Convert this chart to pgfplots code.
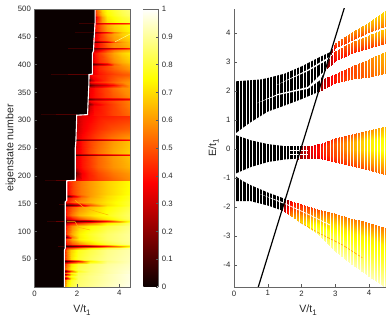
\documentclass[border=0pt]{standalone}
\usepackage{fontspec}
\setmainfont{Liberation Sans}
\usepackage{pgfplots}
\pgfplotsset{compat=1.18}
\pgfplotsset{
  /pgf/number format/assume math mode=true,
  colormap={myhot}{rgb(0cm)=(.04,0,0) rgb(3cm)=(1,0,0) rgb(6cm)=(1,1,0) rgb(8cm)=(1,1,1)},
  colormap name=myhot,
  tick label style={font=\fontsize{7.8}{8}\selectfont,text=black!85},
  label style={font=\fontsize{10.6}{11}\selectfont,text=black!85},
  every axis/.append style={line width=0.6bp},
  tick style={color=black!65,line width=0.5bp},
  major tick length=2.5bp,
  axis line style={color=black!60},
}
\definecolor{hotzero}{rgb}{.04,0,0}
\begin{document}
\begin{tikzpicture}[x=1bp,y=1bp]
\path[use as bounding box] (0,0) rectangle (390,319);
\begin{axis}[name=left, at={(34.5bp,32bp)}, anchor=south west, scale only axis,
  width=95.5bp, height=278bp, xmin=0, xmax=4.5, ymin=0, ymax=500,
  point meta min=0, point meta max=1,
  axis background/.style={fill=hotzero}, axis on top, tick align=inside,
  xtick={0,2,4}, ytick={50,100,...,500}, xtick pos=bottom, ytick pos=left,
  xlabel={V/t\raisebox{-2.5bp}{\fontsize{8}{8}\selectfont 1}}, ylabel={eigenstate number},
  xlabel style={at={(axis description cs:.497,-.083)},anchor=center},
  ylabel style={at={(axis description cs:-.251,.5)},anchor=center},
  colorbar, colorbar shift/.style={xshift=13bp}, colorbar style={width=15bp,
    ytick={0,.1,...,1}, axis y line=right, axis x line=top, axis line style={-},
    xtick=\empty, tick align=inside, major tick length=2.5bp, scaled y ticks=false},
]
\addplot[surf, shader=interp, mesh/cols=7, point meta=explicit] coordinates {
(1.41,1)[.55] (1.51,1)[.72] (1.71,1)[.80] (2.06,1)[.86] (2.6,1)[.89] (3.4,1)[.93] (4.5,1)[.98]
(1.41,12)[.5] (1.51,12)[.68] (1.71,12)[.78] (2.06,12)[.85] (2.6,12)[.88] (3.4,12)[.92] (4.5,12)[.97]
(1.41,16)[.15] (1.51,16)[.35] (1.71,16)[.70] (2.06,16)[.84] (2.6,16)[.88] (3.4,16)[.92] (4.5,16)[.97]
(1.41,20)[.5] (1.51,20)[.66] (1.71,20)[.77] (2.06,20)[.84] (2.6,20)[.88] (3.4,20)[.92] (4.5,20)[.97]
(1.41,23)[.15] (1.51,23)[.35] (1.71,23)[.68] (2.06,23)[.83] (2.6,23)[.87] (3.4,23)[.92] (4.5,23)[.97]
(1.41,26)[.45] (1.51,26)[.6] (1.71,26)[.75] (2.06,26)[.83] (2.6,26)[.87] (3.4,26)[.91] (4.5,26)[.96]
(1.41,29)[.10] (1.51,29)[.25] (1.71,29)[.5] (2.06,29)[.78] (2.6,29)[.86] (3.4,29)[.91] (4.5,29)[.96]
(1.41,33)[.45] (1.51,33)[.6] (1.71,33)[.73] (2.06,33)[.82] (2.6,33)[.86] (3.4,33)[.91] (4.5,33)[.95]
(1.41,41)[.4] (1.51,41)[.55] (1.71,41)[.70] (2.06,41)[.80] (2.6,41)[.85] (3.4,41)[.9] (4.5,41)[.94]
(1.41,46)[.06] (1.51,46)[.12] (1.71,46)[.22] (2.06,46)[.38] (2.6,46)[.72] (3.4,46)[.87] (4.5,46)[.93]
(1.41,51)[.4] (1.51,51)[.55] (1.71,51)[.70] (2.06,51)[.79] (2.6,51)[.84] (3.4,51)[.89] (4.5,51)[.93]
(1.41,66)[.4] (1.51,66)[.55] (1.71,66)[.68] (2.06,66)[.77] (2.6,66)[.82] (3.4,66)[.88] (4.5,66)[.92]
(1.45,71)[.3] (1.55,71)[.45] (1.75,71)[.5] (2.1,71)[.6] (2.6,71)[.72] (3.4,71)[.82] (4.5,71)[.9]
(1.45,74)[.05] (1.55,74)[.08] (1.75,74)[.12] (2.1,74)[.18] (2.6,74)[.22] (3.4,74)[.42] (4.5,74)[.72]
(1.45,77)[.3] (1.55,77)[.42] (1.75,77)[.5] (2.1,77)[.58] (2.6,77)[.68] (3.4,77)[.8] (4.5,77)[.88]
(1.45,86)[.38] (1.55,86)[.5] (1.75,86)[.62] (2.1,86)[.73] (2.6,86)[.78] (3.4,86)[.85] (4.5,86)[.9]
(1.45,90)[.08] (1.55,90)[.2] (1.75,90)[.55] (2.1,90)[.72] (2.6,90)[.78] (3.4,90)[.85] (4.5,90)[.9]
(1.45,95)[.38] (1.55,95)[.5] (1.75,95)[.63] (2.1,95)[.73] (2.6,95)[.79] (3.4,95)[.85] (4.5,95)[.9]
(1.45,110)[.35] (1.55,110)[.45] (1.75,110)[.58] (2.1,110)[.68] (2.6,110)[.74] (3.4,110)[.81] (4.5,110)[.88]
(1.45,115)[.2] (1.55,115)[.3] (1.75,115)[.38] (2.1,115)[.45] (2.6,115)[.55] (3.4,115)[.72] (4.5,115)[.85]
(1.45,119)[.05] (1.55,119)[.07] (1.75,119)[.1] (2.1,119)[.14] (2.6,119)[.18] (3.4,119)[.4] (4.5,119)[.78]
(1.45,123)[.2] (1.55,123)[.3] (1.75,123)[.38] (2.1,123)[.48] (2.6,123)[.58] (3.4,123)[.72] (4.5,123)[.84]
(1.45,130)[.35] (1.55,130)[.45] (1.75,130)[.55] (2.1,130)[.64] (2.6,130)[.7] (3.4,130)[.77] (4.5,130)[.85]
(1.45,143)[.35] (1.55,143)[.42] (1.75,143)[.5] (2.1,143)[.58] (2.6,143)[.65] (3.4,143)[.74] (4.5,143)[.82]
(1.45,148)[.06] (1.55,148)[.1] (1.75,148)[.14] (2.1,148)[.25] (2.6,148)[.5] (3.4,148)[.7] (4.5,148)[.8]
(1.45,153)[.35] (1.55,153)[.42] (1.75,153)[.5] (2.1,153)[.58] (2.6,153)[.64] (3.4,153)[.72] (4.5,153)[.8]
(1.52,160)[.35] (1.62,160)[.4] (1.82,160)[.46] (2.17,160)[.55] (2.6,160)[.62] (3.4,160)[.7] (4.5,160)[.78]
(1.52,164)[.1] (1.62,164)[.15] (1.82,164)[.3] (2.17,164)[.5] (2.6,164)[.6] (3.4,164)[.7] (4.5,164)[.78]
(1.52,168)[.33] (1.62,168)[.4] (1.82,168)[.47] (2.17,168)[.55] (2.6,168)[.6] (3.4,168)[.68] (4.5,168)[.76]
(1.52,190)[.36] (1.62,190)[.42] (1.82,190)[.48] (2.17,190)[.55] (2.6,190)[.6] (3.4,190)[.68] (4.5,190)[.75]
(1.92,192)[.3] (2.02,192)[.33] (2.22,192)[.38] (2.57,192)[.42] (3,192)[.46] (3.7,192)[.52] (4.5,192)[.58]
(1.92,205)[.08] (2.02,205)[.2] (2.22,205)[.36] (2.57,205)[.42] (3,205)[.48] (3.7,205)[.55] (4.5,205)[.6]
(1.92,215)[.3] (2.02,215)[.34] (2.22,215)[.4] (2.57,215)[.45] (3,215)[.52] (3.7,215)[.59] (4.5,215)[.64]
(1.92,235)[.3] (2.02,235)[.34] (2.22,235)[.4] (2.57,235)[.45] (3,235)[.52] (3.7,235)[.6] (4.5,235)[.66]
(1.92,238)[.06] (2.02,238)[.1] (2.22,238)[.14] (2.57,238)[.18] (3,238)[.24] (3.7,238)[.3] (4.5,238)[.38]
(1.92,241)[.3] (2.02,241)[.34] (2.22,241)[.4] (2.57,241)[.47] (3,241)[.54] (3.7,241)[.62] (4.5,241)[.68]
(1.95,262)[.3] (2.05,262)[.34] (2.25,262)[.4] (2.6,262)[.47] (3,262)[.52] (3.7,262)[.6] (4.5,262)[.66]
(1.95,265)[.06] (2.05,265)[.1] (2.25,265)[.15] (2.6,265)[.2] (3,265)[.25] (3.7,265)[.32] (4.5,265)[.4]
(1.95,268)[.3] (2.05,268)[.34] (2.25,268)[.38] (2.6,268)[.43] (3,268)[.48] (3.7,268)[.55] (4.5,268)[.6]
(1.97,285)[.25] (2.07,285)[.3] (2.27,285)[.36] (2.62,285)[.4] (3,285)[.44] (3.7,285)[.49] (4.5,285)[.52]
(1.99,309)[.25] (2.09,309)[.3] (2.29,309)[.34] (2.64,309)[.37] (3,309)[.4] (3.7,309)[.42] (4.5,309)[.44]
(2.5,310)[.3] (2.6,310)[.36] (2.8,310)[.4] (3.3,310)[.43] (3.7,310)[.47] (4.1,310)[.5] (4.5,310)[.53]
(2.5,325)[.15] (2.6,325)[.3] (2.8,325)[.38] (3.3,325)[.43] (3.7,325)[.47] (4.1,325)[.52] (4.5,325)[.56]
(2.5,330)[.15] (2.6,330)[.2] (2.8,330)[.33] (3.3,330)[.42] (3.7,330)[.47] (4.1,330)[.52] (4.5,330)[.56]
(2.5,335)[.3] (2.6,335)[.36] (2.8,335)[.4] (3.3,335)[.45] (3.7,335)[.49] (4.1,335)[.53] (4.5,335)[.57]
(2.53,338)[.1] (2.63,338)[.15] (2.83,338)[.22] (3.3,338)[.28] (3.7,338)[.3] (4.1,338)[.32] (4.5,338)[.36]
(2.53,341)[.28] (2.63,341)[.36] (2.83,341)[.4] (3.3,341)[.46] (3.7,341)[.5] (4.1,341)[.54] (4.5,341)[.58]
(2.53,358)[.2] (2.63,358)[.35] (2.83,358)[.4] (3.3,358)[.47] (3.7,358)[.53] (4.1,358)[.58] (4.5,358)[.6]
(2.56,363)[.08] (2.66,363)[.15] (2.86,363)[.22] (3.3,363)[.3] (3.7,363)[.38] (4.1,363)[.5] (4.5,363)[.6]
(2.56,368)[.3] (2.66,368)[.38] (2.86,368)[.42] (3.3,368)[.47] (3.7,368)[.52] (4.1,368)[.57] (4.5,368)[.6]
(2.56,373)[.1] (2.66,373)[.25] (2.86,373)[.36] (3.3,373)[.44] (3.7,373)[.5] (4.1,373)[.55] (4.5,373)[.58]
(2.57,382)[.3] (2.67,382)[.38] (2.87,382)[.4] (3.3,382)[.44] (3.7,382)[.48] (4.1,382)[.5] (4.5,382)[.52]
(2.73,383)[.3] (2.83,383)[.36] (3.03,383)[.4] (3.4,383)[.44] (3.75,383)[.47] (4.1,383)[.5] (4.5,383)[.52]
(2.73,392)[.3] (2.83,392)[.38] (3.03,392)[.43] (3.4,392)[.48] (3.75,392)[.52] (4.1,392)[.56] (4.5,392)[.6]
(2.73,398)[.3] (2.83,398)[.38] (3.03,398)[.43] (3.4,398)[.48] (3.75,398)[.54] (4.1,398)[.58] (4.5,398)[.62]
(2.73,401)[.1] (2.83,401)[.16] (3.03,401)[.22] (3.4,401)[.32] (3.75,401)[.52] (4.1,401)[.6] (4.5,401)[.64]
(2.73,404)[.3] (2.83,404)[.38] (3.03,404)[.44] (3.4,404)[.5] (3.75,404)[.58] (4.1,404)[.63] (4.5,404)[.67]
(2.73,420)[.3] (2.83,420)[.4] (3.03,420)[.46] (3.4,420)[.55] (3.75,420)[.62] (4.1,420)[.68] (4.5,420)[.72]
(2.78,426)[.25] (2.88,426)[.3] (3.08,426)[.36] (3.4,426)[.46] (3.75,426)[.55] (4.1,426)[.6] (4.5,426)[.64]
(2.78,429)[.12] (2.88,429)[.16] (3.08,429)[.2] (3.4,429)[.26] (3.75,429)[.3] (4.1,429)[.34] (4.5,429)[.42]
(2.78,432)[.3] (2.88,432)[.36] (3.08,432)[.42] (3.4,432)[.5] (3.75,432)[.58] (4.1,432)[.6] (4.5,432)[.64]
(2.78,438)[.3] (2.88,438)[.35] (3.08,438)[.42] (3.4,438)[.52] (3.75,438)[.58] (4.1,438)[.62] (4.5,438)[.66]
(2.78,441)[.1] (2.88,441)[.14] (3.08,441)[.2] (3.4,441)[.3] (3.75,441)[.5] (4.1,441)[.6] (4.5,441)[.66]
(2.78,444)[.3] (2.88,444)[.36] (3.08,444)[.44] (3.4,444)[.52] (3.75,444)[.6] (4.1,444)[.64] (4.5,444)[.68]
(2.82,455)[.3] (2.92,455)[.36] (3.12,455)[.46] (3.4,455)[.55] (3.75,455)[.62] (4.1,455)[.68] (4.5,455)[.72]
(2.82,458)[.15] (2.92,458)[.2] (3.12,458)[.3] (3.4,458)[.38] (3.75,458)[.55] (4.1,458)[.66] (4.5,458)[.72]
(2.82,461)[.33] (2.92,461)[.4] (3.12,461)[.5] (3.4,461)[.6] (3.75,461)[.66] (4.1,461)[.7] (4.5,461)[.74]
(2.82,471)[.33] (2.92,471)[.42] (3.12,471)[.52] (3.4,471)[.62] (3.75,471)[.68] (4.1,471)[.72] (4.5,471)[.75]
(2.82,474)[.2] (2.92,474)[.28] (3.12,474)[.33] (3.4,474)[.36] (3.75,474)[.38] (4.1,474)[.4] (4.5,474)[.45]
(2.86,477)[.35] (2.96,477)[.45] (3.16,477)[.6] (3.4,477)[.7] (3.75,477)[.74] (4.1,477)[.78] (4.5,477)[.8]
(2.86,485)[.25] (2.96,485)[.4] (3.16,485)[.6] (3.4,485)[.72] (3.75,485)[.76] (4.1,485)[.8] (4.5,485)[.83]
(2.86,490)[.4] (2.96,490)[.5] (3.16,490)[.65] (3.4,490)[.74] (3.75,490)[.78] (4.1,490)[.82] (4.5,490)[.85]
(2.86,500)[.45] (2.96,500)[.55] (3.16,500)[.7] (3.4,500)[.76] (3.75,500)[.8] (4.1,500)[.84] (4.5,500)[.87]
};
% dark streaks running into the black region
\addplot[mesh, point meta=explicit, line width=.9bp, forget plot] coordinates {(.6,118)[.03] (1,118)[.08] (1.41,118)[.2]};
\addplot[mesh, point meta=explicit, line width=.9bp, forget plot] coordinates {(.5,191)[.03] (1,191)[.08] (1.52,191)[.16]};
\addplot[mesh, point meta=explicit, line width=.9bp, forget plot] coordinates {(.3,310)[.03] (1,310)[.08] (1.99,310)[.13]};
\addplot[mesh, point meta=explicit, line width=.9bp, forget plot] coordinates {(.8,382)[.03] (1.6,382)[.1] (2.57,382)[.15]};
\addplot[mesh, point meta=explicit, line width=.7bp, forget plot] coordinates {(1.1,74)[.03] (1.45,74)[.12]};
\addplot[mesh, point meta=explicit, line width=.7bp, forget plot] coordinates {(1.15,148)[.03] (1.45,148)[.12]};
\addplot[mesh, point meta=explicit, line width=.7bp, forget plot] coordinates {(1.6,429)[.03] (2.78,429)[.12]};
\addplot[mesh, point meta=explicit, line width=.7bp, forget plot] coordinates {(1.9,458)[.03] (2.82,458)[.08]};
\addplot[mesh, point meta=explicit, line width=.7bp, forget plot] coordinates {(2.1,474)[.03] (2.82,474)[.12]};
% thin pale curves
\addplot[no marks, color=orange!60!yellow, line width=.5bp] coordinates {(1.91,156)(2.1,150)(2.33,143)(2.93,135.6)(3.48,129.6)};
\addplot[no marks, color=orange!60!yellow, line width=.5bp] coordinates {(1.52,117.7)(1.91,117.7)(2.07,107.4)(2.62,102.6)};
\addplot[no marks, color=yellow!50, line width=.5bp] coordinates {(3.8,441)(4.5,455)};
% white step line
\addplot[no marks, white, line width=1.1bp] coordinates {(1.41,0)(1.41,66)(1.45,70)(1.45,153)(1.52,156)(1.52,191)(1.92,192)(1.92,250)(1.95,262)(1.97,285)(1.99,309)(2.5,310)(2.53,338)(2.56,363)(2.57,382)(2.73,383)(2.73,420)(2.78,425)(2.82,454)(2.86,478)(2.86,500)};
\end{axis}

\begin{axis}[name=right, at={(234bp,32bp)}, anchor=south west, scale only axis,
  width=152bp, height=278bp, xmin=0, xmax=4.5, ymin=-4.76, ymax=4.83,
  point meta min=0, point meta max=1,
  axis x line=bottom, axis y line=left, axis line style={-}, axis on top, tick align=inside,
  xtick={0,1,2,3,4}, ytick={-4,-3,-2,-1,0,1,2,3,4},
  xlabel={V/t\raisebox{-2.5bp}{\fontsize{8}{8}\selectfont 1}}, ylabel={E/t\raisebox{-2.5bp}{\fontsize{8}{8}\selectfont 1}},
  xlabel style={at={(axis description cs:.487,-.083)},anchor=center},
  ylabel style={at={(axis description cs:-.135,.5)},anchor=center},
]
% black parts of the bands, left of the line
\addplot[fill=black,draw=none] coordinates {(0,.5)(.25,.72)(.5,.93)(1,1.29)(1.5,1.5)(2,1.72)(2.5,1.97)(2.6,2.38)(2.86,3.35)(2.5,3.15)(2,2.85)(1.5,2.6)(1,2.45)(.8,2.4)(0,2.33)} --cycle;
\addplot[fill=black,draw=none] coordinates {(0,.5)(.5,.3)(1,.17)(1.5,.1)(2,.1)(1.89,-.33)(1.5,-.36)(1,-.45)(.5,-.62)(0,-.87)} --cycle;
\addplot[fill=black,draw=none] coordinates {(0,-.9)(.25,-1.1)(.5,-1.25)(1,-1.5)(1.51,-1.72)(1.42,-2.12)(1,-1.95)(.5,-1.8)(0,-1.8)} --cycle;
% white slits between sub-bands
\addplot[fill=white,draw=none] coordinates {(.66,1.57)(1.3,1.86)(2.19,2.08)(2.55,2.38)(2.7,2.72)(2.19,2.14)(1.3,1.9)} --cycle;
\addplot[fill=white,draw=none] coordinates {(1.25,2.2)(2.19,2.69)(2.8,3.1)(2.85,3.2)(2.19,2.74)} --cycle;
\addplot[fill=white,draw=none] coordinates {(.77,-1.55)(1.5,-1.86)(1.5,-1.9)} --cycle;
% coloured parts, right of the line
\addplot[surf, shader=interp, mesh/cols=6, point meta=explicit] coordinates {
(2.5,1.97)[.2] (2.75,2.15)[.32] (3,2.27)[.4] (3.5,2.4)[.5] (4,2.5)[.52] (4.5,2.63)[.58]
(2.55,2.17)[.2] (2.75,2.31)[.32] (3,2.44)[.42] (3.5,2.63)[.48] (4,2.8)[.55] (4.5,3.0)[.62]
(2.6,2.38)[.2] (2.75,2.47)[.32] (3,2.6)[.4] (3.5,2.85)[.48] (4,3.1)[.57] (4.5,3.37)[.65]
};
\addplot[surf, shader=interp, mesh/cols=5, point meta=explicit] coordinates {
(2.7,2.72)[.15] (3,3.05)[.38] (3.5,3.3)[.42] (4,3.5)[.45] (4.5,3.64)[.5]
(2.75,2.91)[.15] (3,3.21)[.42] (3.5,3.49)[.48] (4,3.72)[.55] (4.5,3.91)[.6]
(2.8,3.1)[.15] (3,3.38)[.45] (3.5,3.68)[.55] (4,3.95)[.63] (4.5,4.18)[.68]
};
\addplot[surf, shader=interp, mesh/cols=5, point meta=explicit] coordinates {
(2.82,3.2)[.15] (3,3.47)[.42] (3.5,3.76)[.48] (4,4.03)[.52] (4.5,4.26)[.56]
(2.84,3.27)[.15] (3,3.56)[.45] (3.5,3.9)[.53] (4,4.2)[.6] (4.5,4.51)[.64]
(2.86,3.35)[.15] (3,3.65)[.48] (3.5,4.03)[.58] (4,4.38)[.66] (4.5,4.78)[.7]
};
\addplot[surf, shader=interp, mesh/cols=7, point meta=explicit] coordinates {
(1.89,-.33)[.2] (2.2,-.3)[.3] (2.6,-.34)[.36] (3,-.44)[.42] (3.5,-.59)[.46] (4,-.72)[.5] (4.5,-.9)[.55]
(1.92,-.22)[.2] (2.2,-.2)[.3] (2.6,-.2)[.4] (3,-.24)[.48] (3.5,-.31)[.55] (4,-.38)[.62] (4.5,-.47)[.66]
(1.95,-.11)[.2] (2.2,-.09)[.32] (2.6,-.07)[.42] (3,-.03)[.5] (3.5,-.03)[.62] (4,-.03)[.72] (4.5,-.05)[.78]
(1.97,0)[.2] (2.2,.01)[.32] (2.6,.06)[.42] (3,.17)[.52] (3.5,.25)[.62] (4,.31)[.72] (4.5,.37)[.75]
(2,.1)[.2] (2.2,.12)[.3] (2.6,.2)[.38] (3,.37)[.45] (3.5,.52)[.5] (4,.65)[.58] (4.5,.8)[.65]
};
\addplot[surf, shader=interp, mesh/cols=7, point meta=explicit] coordinates {
(1.42,-2.12)[.2] (1.7,-2.31)[.6] (2.45,-2.9)[.86] (2.95,-3.48)[.9] (3.44,-3.93)[.92] (3.95,-4.34)[.92] (4.5,-4.78)[.93]
(1.45,-1.96)[.18] (1.7,-2.10)[.5] (2.45,-2.57)[.74] (2.95,-2.97)[.8] (3.44,-3.32)[.8] (3.95,-3.62)[.8] (4.5,-3.96)[.8]
(1.48,-1.84)[.15] (1.7,-1.95)[.42] (2.45,-2.32)[.6] (2.95,-2.58)[.7] (3.44,-2.85)[.72] (3.95,-3.05)[.72] (4.5,-3.33)[.73]
(1.51,-1.72)[.12] (1.7,-1.79)[.38] (2.45,-2.07)[.48] (2.95,-2.2)[.55] (3.44,-2.38)[.55] (3.95,-2.52)[.55] (4.5,-2.72)[.55]
};
% slits through the coloured parts
\addplot[no marks, white, line width=.6bp] coordinates {(1.66,-.03)(2.19,-.03)};
\addplot[no marks, white, line width=.6bp] coordinates {(1.66,-.17)(2.19,-.17)};
\addplot[no marks, white, line width=.7bp] coordinates {(1.5,-1.88)(2.25,-2.28)(2.84,-2.62)};
\addplot[no marks, color=orange!80!yellow, line width=.5bp] coordinates {(1.9,-2.5)(2.6,-2.95)(3.2,-3.3)(3.8,-3.75)};
% gaps between the discrete values of V
\addplot[ycomb, no marks, white, line width=.55bp] coordinates {(.05,5)(.15,5)(.25,5)(.35,5)(.45,5)(.55,5)(.65,5)(.75,5)(.85,5)(.95,5)};
\addplot[ycomb, no marks, white, line width=.55bp] coordinates {(.05,-5)(.15,-5)(.25,-5)(.35,-5)(.45,-5)(.55,-5)(.65,-5)(.75,-5)(.85,-5)(.95,-5)};
\addplot[ycomb, no marks, white, line width=.75bp] coordinates {(1.05,5)(1.15,5)(1.25,5)(1.35,5)(1.45,5)(1.55,5)(1.65,5)(1.75,5)(1.85,5)(1.95,5)};
\addplot[ycomb, no marks, white, line width=.75bp] coordinates {(1.05,-5)(1.15,-5)(1.25,-5)(1.35,-5)(1.45,-5)(1.55,-5)(1.65,-5)(1.75,-5)(1.85,-5)(1.95,-5)};
\addplot[ycomb, no marks, white, line width=.95bp] coordinates {(2.05,5)(2.15,5)(2.25,5)(2.35,5)(2.45,5)(2.55,5)(2.65,5)(2.75,5)(2.85,5)(2.95,5)(3.05,5)(3.15,5)(3.25,5)(3.35,5)(3.45,5)(3.55,5)(3.65,5)(3.75,5)(3.85,5)(3.95,5)(4.05,5)(4.15,5)(4.25,5)(4.35,5)(4.45,5)};
\addplot[ycomb, no marks, white, line width=.95bp] coordinates {(2.05,-5)(2.15,-5)(2.25,-5)(2.35,-5)(2.45,-5)(2.55,-5)(2.65,-5)(2.75,-5)(2.85,-5)(2.95,-5)(3.05,-5)(3.15,-5)(3.25,-5)(3.35,-5)(3.45,-5)(3.55,-5)(3.65,-5)(3.75,-5)(3.85,-5)(3.95,-5)(4.05,-5)(4.15,-5)(4.25,-5)(4.35,-5)(4.45,-5)};
% the straight line
\addplot[no marks, black, line width=1.2bp] coordinates {(.7,-4.83)(3.27,4.88)};
\end{axis}
\end{tikzpicture}
\end{document}
